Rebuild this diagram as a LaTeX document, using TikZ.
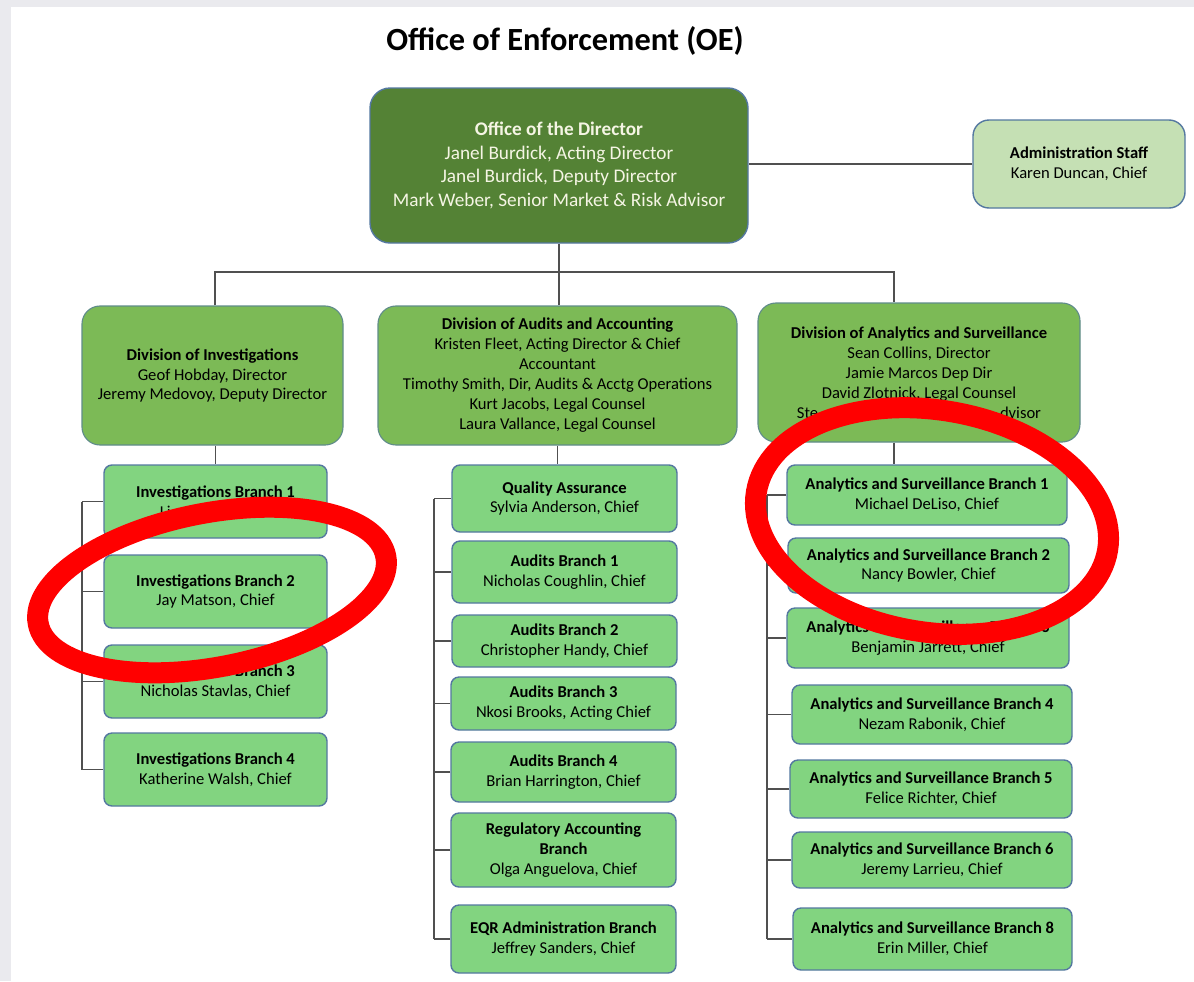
\documentclass[tikz,border=0pt]{standalone}
\usepackage{fontspec}
\setmainfont{Carlito}
\usetikzlibrary{positioning}

\newcommand{\pxl}{0.025cm}
\definecolor{dirgreen}{RGB}{84,130,53}
\definecolor{dirtext}{RGB}{245,245,228}
\definecolor{admgreen}{RGB}{197,224,180}
\definecolor{divgreen}{RGB}{124,186,86}
\definecolor{brgreen}{RGB}{130,212,128}
\definecolor{boxline}{RGB}{84,120,160}
\definecolor{linegray}{RGB}{80,80,80}
\definecolor{pagegray}{RGB}{234,234,238}

\tikzstyle{director} = [rectangle, rounded corners=0.5cm, draw=boxline, line width=1pt, fill=dirgreen, text=dirtext, align=center, inner sep=0pt, font=\fontsize{13.7}{16.8}\selectfont]
\tikzstyle{admin} = [rectangle, rounded corners=0.4cm, draw=boxline, line width=1pt, fill=admgreen, align=center, inner sep=0pt, font=\fontsize{11.8}{14.2}\selectfont]
\tikzstyle{division} = [rectangle, rounded corners=0.45cm, draw=boxline!70!divgreen, line width=0.8pt, fill=divgreen, align=center, inner sep=0pt, font=\fontsize{11.8}{14.2}\selectfont]
\tikzstyle{branch} = [rectangle, rounded corners=0.2cm, draw=boxline, line width=1pt, fill=brgreen, align=center, inner sep=0pt, font=\fontsize{11.8}{14.2}\selectfont]
\tikzstyle{link} = [draw=linegray, line width=1pt]
\tikzstyle{circled} = [draw=red, line width=0.525cm]
\tikzset{boxsize/.style 2 args={minimum width=#1*\pxl, minimum height=#2*\pxl}}

\begin{document}
\begin{tikzpicture}[x=\pxl, y=-\pxl]

\useasboundingbox (0,0) rectangle (1194,981);
\fill[pagegray] (0,0) rectangle (1194,981);
\fill[white] (11,7) rectangle (1194,981);

\node (title) at (565,41) {\fontsize{23}{28}\selectfont\bfseries Office of Enforcement (OE)};

% top level
\node (dir) [director, boxsize={378}{155}] at (559,165.5) {\textbf{Office of the Director}\\Janel Burdick, Acting Director\\Janel Burdick, Deputy Director\\Mark Weber, Senior Market \& Risk Advisor};
\node (adm) [admin, boxsize={212}{88}] at (1079,164) {\textbf{Administration Staff}\\Karen Duncan, Chief};

% divisions
\node (div1) [division, boxsize={261}{139}] at (212.5,375.5) {\textbf{Division of Investigations}\\Geof Hobday, Director\\Jeremy Medovoy, Deputy Director};
\node (div2) [division, boxsize={359}{139}] at (557.5,375.5) {\textbf{Division of Audits and Accounting}\\Kristen Fleet, Acting Director \& Chief\\Accountant\\Timothy Smith, Dir, Audits \& Acctg Operations\\Kurt Jacobs, Legal Counsel\\Laura Vallance, Legal Counsel};
\node (div3) [division, boxsize={322}{139}] at (919,372.5) {\textbf{Division of Analytics and Surveillance}\\Sean Collins, Director\\Jamie Marcos Dep Dir\\David Zlotnick, Legal Counsel\\\makebox[6.1cm]{Ste\hfill dvisor}};

% investigations
\node (ib1) [branch, boxsize={223}{73}] at (215.5,501.5) {\textbf{Investigations Branch 1}\\\makebox[2.78cm][l]{Li}};
\node (ib2) [branch, boxsize={223}{73}] at (215.5,591.5) {\textbf{Investigations Branch 2}\\Jay Matson, Chief};
\node (ib3) [branch, boxsize={223}{73}] at (215.5,681.5) {\textbf{Investigations Branch 3}\\Nicholas Stavlas, Chief};
\node (ib4) [branch, boxsize={223}{73}] at (215.5,769.5) {\textbf{Investigations Branch 4}\\Katherine Walsh, Chief};

% audits and accounting
\node (qa) [branch, boxsize={225}{67}] at (564.5,498.5) {\textbf{Quality Assurance}\\Sylvia Anderson, Chief};
\node (ab1) [branch, boxsize={225}{62}] at (564.5,572) {\textbf{Audits Branch 1}\\Nicholas Coughlin, Chief};
\node (ab2) [branch, boxsize={225}{52}] at (564.5,641) {\textbf{Audits Branch 2}\\Christopher Handy, Chief};
\node (ab3) [branch, boxsize={225}{53}] at (563.5,703.5) {\textbf{Audits Branch 3}\\Nkosi Brooks, Acting Chief};
\node (ab4) [branch, boxsize={225}{60}] at (563.5,772) {\textbf{Audits Branch 4}\\Brian Harrington, Chief};
\node (rab) [branch, boxsize={225}{74}] at (563.5,850) {\textbf{Regulatory Accounting}\\\textbf{Branch}\\Olga Anguelova, Chief};
\node (eqr) [branch, boxsize={225}{68}] at (563.5,939) {\textbf{EQR Administration Branch}\\Jeffrey Sanders, Chief};

% analytics and surveillance
\node (as1) [branch, boxsize={280}{60}] at (927,495) {\textbf{Analytics and Surveillance Branch 1}\\Michael DeLiso, Chief};
\node (as2) [branch, boxsize={281}{55}] at (928.5,565.5) {\textbf{Analytics and Surveillance Branch 2}\\Nancy Bowler, Chief};
\node (as3) [branch, boxsize={282}{60}] at (928,638) {\textbf{Analytics and Surveillance Branch 3}\\Benjamin Jarrett, Chief};
\node (as4) [branch, boxsize={280}{59}] at (932,714.5) {\textbf{Analytics and Surveillance Branch 4}\\Nezam Rabonik, Chief};
\node (as5) [branch, boxsize={282}{58}] at (931,789) {\textbf{Analytics and Surveillance Branch 5}\\Felice Richter, Chief};
\node (as6) [branch, boxsize={280}{56}] at (932,860) {\textbf{Analytics and Surveillance Branch 6}\\Jeremy Larrieu, Chief};
\node (as8) [branch, boxsize={279}{62}] at (932.5,939) {\textbf{Analytics and Surveillance Branch 8}\\Erin Miller, Chief};

\coordinate (busL) at (215,272);
\coordinate (busR) at (894,272);
\coordinate (spL) at (82,500);
\coordinate (spM) at (434,500);
\coordinate (spR) at (767,500);

\draw [link] (adm.west) -- (adm.west -| dir.east);
\draw [link] (dir.south) -- (dir.south |- div2.north);
\draw [link] (busL |- div1.north) -- (busL) -- (busR) -- (busR |- div3.north);
\draw [link] (div1.south -| ib1.north) -- (ib1.north);
\draw [link] (div2.south) -- (div2.south |- qa.north);
\draw [link] (busR |- div3.south) -- (busR |- as1.north);

\draw [link] (ib1.west -| spL) -- (ib4.west -| spL);
\foreach \b in {ib1,ib2,ib3,ib4}
  \draw [link] (\b.west) -- (\b.west -| spL);
\draw [link] (qa.west -| spM) -- (eqr.west -| spM);
\foreach \b in {qa,ab1,ab2,ab3,ab4,rab,eqr}
  \draw [link] (\b.west) -- (\b.west -| spM);
\draw [link] (as1.west -| spR) -- (as8.west -| spR);
\foreach \b in {as1,as2,as3,as4,as5,as6,as8}
  \draw [link] (\b.west) -- (\b.west -| spR);

% red marks
\draw [circled, rotate around={11:(212,590)}] (212,590) ellipse [x radius=177, y radius=77];
\draw [circled, rotate around={-9.4:(932,521)}] (932,521) ellipse [x radius=178, y radius=111];

\end{tikzpicture}
\end{document}
